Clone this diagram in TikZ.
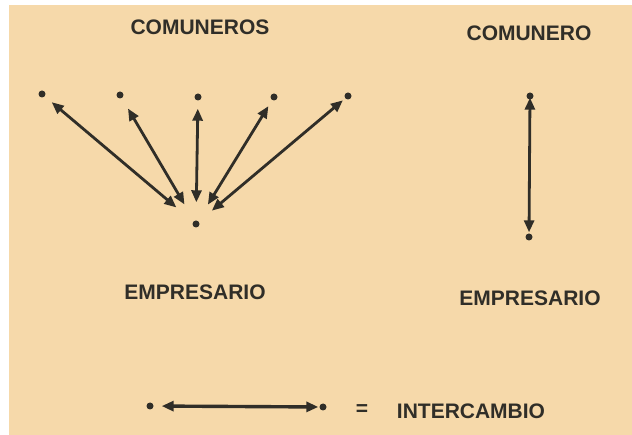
\documentclass[tikz,border=0pt]{standalone}
\usepackage{fontspec}
\setmainfont{Liberation Sans}
\usetikzlibrary{arrows.meta}
\definecolor{paper}{RGB}{246,217,170}
\definecolor{ink}{RGB}{48,46,40}
\tikzset{
  dot/.style = {circle, fill=ink, inner sep=0pt, minimum size=7pt},
  titulo/.style = {font=\bfseries\fontsize{21}{24}\selectfont, text=ink, inner sep=0pt},
  xchg/.style = {draw=ink, line width=2.8pt, >={Triangle[length=12pt,width=10pt]}, <->}
}

\begin{document}
\begin{tikzpicture}[x=1pt, y=-1pt]
  \useasboundingbox (0,0) rectangle (632,435);
  \fill[paper] (9,5) rectangle (632,435);

  % comuneros -- empresario
  \path (42,94) node[dot] (c1) {}
      ++(78,1) node[dot] (c2) {}
      ++(78,2) node[dot] (c3) {}
      ++(76,0) node[dot] (c4) {}
      ++(74,-1) node[dot] (c5) {};
  \node[dot] (emp) at (196,224) {};
  \node[titulo] (comuneros) at (200,27) {COMUNEROS};
  \node[titulo] (empresario) at (195,292) {EMPRESARIO};

  \foreach \c/\t/\b in {c1/9/22, c2/12/19, c3/8/18, c4/7/19, c5/3/17}
    \draw[xchg, shorten >=\t pt, shorten <=\b pt] (emp) -- (\c);

  % comunero -- empresario
  \node[dot] (com) at (530,96) {};
  \node[dot] (empr) at (529,237) {};
  \node[titulo] (comunero) at (529,33) {COMUNERO};
  \node[titulo] (empresario2) at (530,298) {EMPRESARIO};
  \draw[xchg, shorten >=-2pt, shorten <=1pt] (empr) -- (com);

  % leyenda
  \node[dot] (ia) at (150,406) {};
  \node[dot] (ib) at (323,407) {};
  \draw[xchg, line width=3.4pt, shorten <=8pt, shorten >=1pt] (ia) -- (ib);
  \node[titulo] (igual) at (362,410) {=};
  \node[titulo] (intercambio) at (471,411) {INTERCAMBIO};
\end{tikzpicture}
\end{document}
